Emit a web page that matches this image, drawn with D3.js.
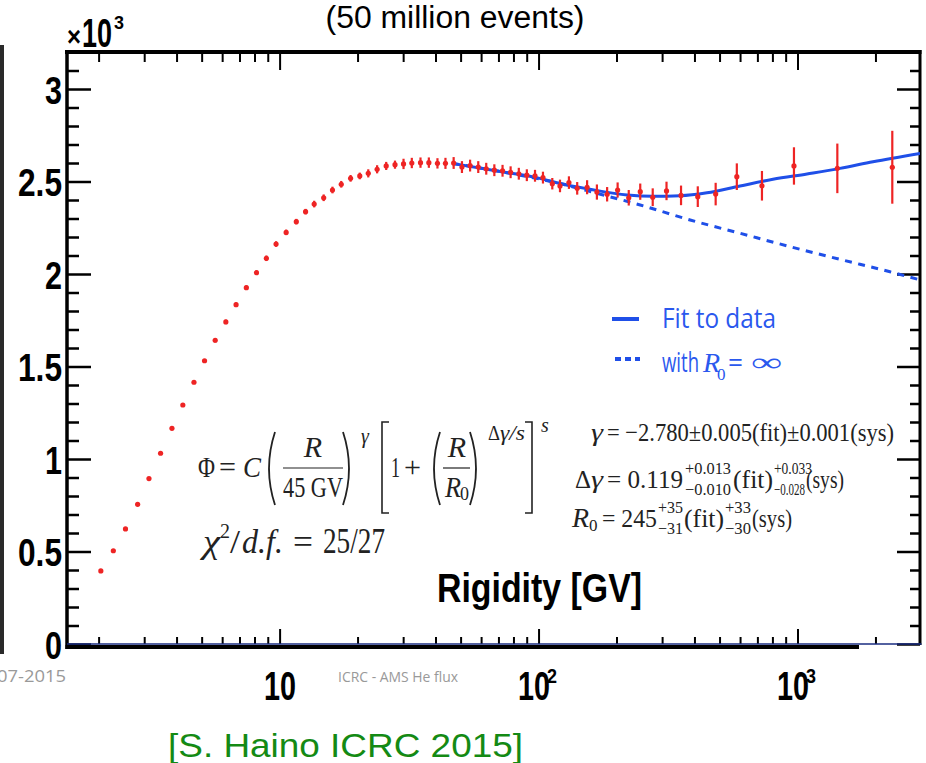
<!DOCTYPE html>
<html>
<head>
<meta charset="utf-8">
<script src="https://cdn.jsdelivr.net/npm/d3@7"></script>
<style>
  body { margin: 0; background: #fff; }
  svg { display: block; }
</style>
</head>
<body>
<div class="chart"></div>
<script>
"use strict";
(function(){

// AMS helium flux x R^2.7, in units of 10^3
var rigidity = [2.04, 2.28, 2.54, 2.83, 3.13, 3.47, 3.84, 4.23, 4.67, 5.13,
                5.64, 6.20, 6.79, 7.44, 8.14, 8.89, 9.69, 10.6, 11.6, 12.6,
                13.6, 14.8, 16.0, 17.3, 18.8, 20.4, 22.0, 23.8, 25.8, 27.9,
                30.1, 32.4, 35.0, 37.7, 40.7, 43.7, 47.0, 50.6, 54.4, 58.5,
                62.8, 67.5, 72.6, 78.0, 83.9, 90.1, 96.9, 104, 113, 121,
                131, 141, 154, 168, 184, 202, 223, 247, 276, 312,
                355, 412, 483, 583, 729, 969, 1425, 2323];
var flux = [0.395, 0.504, 0.622, 0.755, 0.894, 1.031, 1.166, 1.292, 1.415, 1.531,
            1.642, 1.741, 1.834, 1.926, 2.007, 2.085, 2.162, 2.225, 2.283, 2.337,
            2.378, 2.412, 2.454, 2.485, 2.517, 2.530, 2.544, 2.566, 2.584, 2.591,
            2.595, 2.600, 2.602, 2.602, 2.598, 2.598, 2.600, 2.578, 2.586, 2.578,
            2.569, 2.561, 2.558, 2.550, 2.542, 2.534, 2.531, 2.521, 2.488, 2.476,
            2.494, 2.463, 2.469, 2.443, 2.431, 2.454, 2.412, 2.445, 2.415, 2.449,
            2.425, 2.418, 2.432, 2.526, 2.477, 2.584, 2.571, 2.577];
var fluxErr = [0.008, 0.008, 0.008, 0.008, 0.008, 0.008, 0.008, 0.008, 0.008, 0.008,
               0.012, 0.012, 0.012, 0.012, 0.012, 0.015, 0.015, 0.015, 0.015, 0.015,
               0.018, 0.018, 0.018, 0.018, 0.018, 0.018, 0.022, 0.022, 0.022, 0.022,
               0.028, 0.028, 0.028, 0.028, 0.028, 0.030, 0.032, 0.032, 0.032, 0.032,
               0.032, 0.032, 0.032, 0.032, 0.032, 0.032, 0.032, 0.032, 0.031, 0.034,
               0.034, 0.034, 0.038, 0.041, 0.039, 0.041, 0.042, 0.044, 0.048, 0.050,
               0.053, 0.056, 0.061, 0.072, 0.080, 0.101, 0.134, 0.197];

// fit to data (solid) and the same without break, R0 = infinity (dashed)
var fitR    = [46.4, 71.0, 101, 121, 158, 220, 277, 352, 447, 600, 804, 1088, 1459, 1956, 2972];
var fitFlux = [2.598, 2.554, 2.517, 2.489, 2.458, 2.427, 2.420, 2.423, 2.439, 2.476, 2.512, 2.541, 2.571, 2.607, 2.652];
var noBreakR    = [46.4, 71.0, 121, 168, 247, 385, 600, 935, 1459, 2276, 2972];
var noBreakFlux = [2.598, 2.554, 2.489, 2.436, 2.373, 2.292, 2.220, 2.148, 2.079, 2.012, 1.968];

var yMajorTicks = [0, 0.5, 1, 1.5, 2, 2.5, 3];
var yTickLabels = ["0", "0.5", "1", "1.5", "2", "2.5", "3"];
var xMajorTicks = [10, 100, 1000];
var xTickBase = ["10", "10", "10"];
var xTickExp = ["", "2", "3"];
var xMinorTicks = [2, 3, 4, 5, 6, 7, 8, 9, 20, 30, 40, 50, 60, 70, 80, 90,
                   200, 300, 400, 500, 600, 700, 800, 900, 2000];


var width = 926;
var height = 763;
var left = 67, right = 920, top = 52, bottom = 644;

var helv = '"Liberation Sans", Arial, Helvetica, sans-serif';
var serif = '"Liberation Serif", "DejaVu Serif", serif';
var red = '#ee2424';
var blue = '#1f4fe8';

// condensed bold label width: digits 17px, dot 10px
function condW(s){
  return s.split('').reduce(function(a, c){ return a + (c === '.' ? 10 : 17); }, 0);
}

var svg = d3.select('.chart')
            .append('svg')
            .attr('width', width)
            .attr('height', height);

var x = d3.scaleLog().domain([1.51, 2972]).range([left, right]);
var y = d3.scaleLinear().domain([0, 3.2]).range([bottom, top]);

var yMinorTicks = d3.range(1, 33).map(function(i){ return i / 10; })
                    .filter(function(v){ return Math.round(v * 10) % 5 !== 0; });

// slide leftovers
svg.append('rect').attr('x', 0).attr('y', 45).attr('width', 4).attr('height', 609).attr('fill', '#2a2a2a');
svg.append('text').attr('x', 455).attr('y', 28).attr('text-anchor', 'middle')
   .attr('font-family', helv).attr('font-size', 31)
   .attr('textLength', 259).attr('lengthAdjust', 'spacingAndGlyphs')
   .text('(50 million events)');

// axes
function styleAxis(g, w){
  g.select('.domain').remove();
  g.selectAll('.tick line').attr('stroke', '#000').attr('stroke-width', w);
}

var gy = svg.append('g').attr('transform', 'translate(' + left + ',0)')
  .call(d3.axisLeft(y).tickValues(yMajorTicks).tickSize(-24).tickPadding(5)
          .tickFormat(function(d, i){ return yTickLabels[i]; }));
styleAxis(gy, 2.5);
gy.selectAll('.tick text')
  .attr('font-family', helv).attr('font-weight', 'bold').attr('font-size', 38)
  .attr('fill', '#000').attr('dy', '0.37em')
  .attr('textLength', function(d, i){ return condW(yTickLabels[i]); })
  .attr('lengthAdjust', 'spacingAndGlyphs');
styleAxis(svg.append('g').attr('transform', 'translate(' + left + ',0)')
  .call(d3.axisLeft(y).tickValues(yMinorTicks).tickSize(-12).tickFormat('')), 2.5);

styleAxis(svg.append('g').attr('transform', 'translate(' + right + ',0)')
  .call(d3.axisRight(y).tickValues(yMajorTicks).tickSize(-23).tickFormat('')), 2.5);
styleAxis(svg.append('g').attr('transform', 'translate(' + right + ',0)')
  .call(d3.axisRight(y).tickValues(yMinorTicks).tickSize(-10).tickFormat('')), 2.5);

styleAxis(svg.append('g').attr('transform', 'translate(0,' + top + ')')
  .call(d3.axisTop(x).tickValues(xMajorTicks).tickSize(-18).tickFormat('')), 2);
styleAxis(svg.append('g').attr('transform', 'translate(0,' + top + ')')
  .call(d3.axisTop(x).tickValues(xMinorTicks).tickSize(-10).tickFormat('')), 2);

var gx = svg.append('g').attr('transform', 'translate(0,' + bottom + ')')
  .call(d3.axisBottom(x).tickValues(xMajorTicks).tickSize(-15).tickFormat(function(d, i){ return xTickBase[i]; }));
styleAxis(gx, 2);
styleAxis(svg.append('g').attr('transform', 'translate(0,' + bottom + ')')
  .call(d3.axisBottom(x).tickValues(xMinorTicks).tickSize(-7).tickFormat('')), 2);
gx.selectAll('.tick text')
  .attr('y', 56).attr('dy', 0)
  .attr('font-family', helv).attr('font-weight', 'bold').attr('font-size', 40).attr('fill', '#000')
  .attr('textLength', 32).attr('lengthAdjust', 'spacingAndGlyphs')
  .attr('text-anchor', 'start')
  .attr('x', function(d, i){ return xTickExp[i] ? -21 : -16; })
  .each(function(d, i){
    if (!xTickExp[i]) return;
    d3.select(this.parentNode).append('text')
      .attr('x', 13).attr('y', 39)
      .attr('font-family', helv).attr('font-weight', 'bold').attr('font-size', 21).attr('fill', '#000')
      .attr('textLength', 10).attr('lengthAdjust', 'spacingAndGlyphs')
      .text(xTickExp[i]);
  });

// frame
svg.append('line').attr('x1', left).attr('x2', left).attr('y1', top - 2).attr('y2', bottom + 5)
   .attr('stroke', '#000').attr('stroke-width', 3.5);
svg.append('line').attr('x1', left - 2).attr('x2', right + 1.5).attr('y1', top).attr('y2', top)
   .attr('stroke', '#000').attr('stroke-width', 4);
svg.append('line').attr('x1', right).attr('x2', right).attr('y1', top - 2).attr('y2', bottom + 1)
   .attr('stroke', '#000').attr('stroke-width', 3);
svg.append('line').attr('x1', left).attr('x2', right + 1.5).attr('y1', bottom).attr('y2', bottom)
   .attr('stroke', '#1a2d80').attr('stroke-width', 1.5);
svg.append('line').attr('x1', left - 1.5).attr('x2', 859).attr('y1', bottom + 3).attr('y2', bottom + 3)
   .attr('stroke', '#000').attr('stroke-width', 4);

// x10^3
svg.append('text').attr('x', 67).attr('y', 46)
  .attr('font-family', helv).attr('font-weight', 'bold').attr('font-size', 28)
  .attr('textLength', 14).attr('lengthAdjust', 'spacingAndGlyphs').text('×');
svg.append('text').attr('x', 82).attr('y', 47)
  .attr('font-family', helv).attr('font-weight', 'bold').attr('font-size', 40)
  .attr('textLength', 30).attr('lengthAdjust', 'spacingAndGlyphs').text('10');
svg.append('text').attr('x', 114).attr('y', 29)
  .attr('font-family', helv).attr('font-weight', 'bold').attr('font-size', 19)
  .attr('textLength', 10).attr('lengthAdjust', 'spacingAndGlyphs').text('3');

// curves
svg.append('clipPath').attr('id', 'plot')
  .append('rect').attr('x', left).attr('y', top).attr('width', right - left).attr('height', bottom - top);

var line = d3.line()
  .x(function(d){ return x(d[0]); })
  .y(function(d){ return y(d[1]); })
  .curve(d3.curveMonotoneX);

svg.append('path')
   .datum(noBreakR.map(function(r, i){ return [r, noBreakFlux[i]]; }))
   .attr('clip-path', 'url(#plot)')
   .attr('d', line).attr('fill', 'none').attr('stroke', blue)
   .attr('stroke-width', 3).attr('stroke-dasharray', '7,6.5');
svg.append('path')
   .datum(fitR.map(function(r, i){ return [r, fitFlux[i]]; }))
   .attr('clip-path', 'url(#plot)')
   .attr('d', line).attr('fill', 'none').attr('stroke', blue).attr('stroke-width', 3);

// data points
var pts = rigidity.map(function(r, i){ return {r: r, v: flux[i], e: fluxErr[i]}; });
svg.selectAll('.err').data(pts).enter().append('line')
   .attr('class', 'err')
   .attr('x1', function(d){ return x(d.r); }).attr('x2', function(d){ return x(d.r); })
   .attr('y1', function(d){ return y(d.v + d.e); }).attr('y2', function(d){ return y(d.v - d.e); })
   .attr('stroke', red).attr('stroke-width', 2.2);
svg.selectAll('.pt').data(pts).enter().append('circle')
   .attr('class', 'pt')
   .attr('cx', function(d){ return x(d.r); }).attr('cy', function(d){ return y(d.v); })
   .attr('r', 2.6).attr('fill', red);

// legend
var legendFont = '"Open Sans", "Noto Sans", sans-serif';
var lblue = '#2a58ee';
var lg = svg.append('g');
lg.append('line').attr('x1', 612).attr('x2', 639).attr('y1', 319).attr('y2', 319)
  .attr('stroke', blue).attr('stroke-width', 4);
lg.append('line').attr('x1', 615).attr('x2', 640).attr('y1', 359).attr('y2', 359)
  .attr('stroke', blue).attr('stroke-width', 4).attr('stroke-dasharray', '6,4');
lg.append('text').attr('x', 662).attr('y', 328).attr('font-family', legendFont).attr('font-size', 27)
  .attr('fill', lblue).attr('textLength', 114).attr('lengthAdjust', 'spacingAndGlyphs').text('Fit to data');
lg.append('text').attr('x', 662).attr('y', 372).attr('font-family', legendFont).attr('font-size', 27)
  .attr('fill', lblue).attr('textLength', 37).attr('lengthAdjust', 'spacingAndGlyphs').text('with');
lg.append('text').attr('x', 703).attr('y', 372).attr('font-family', serif).attr('font-style', 'italic')
  .attr('font-size', 28).attr('fill', lblue).text('R');
lg.append('text').attr('x', 717).attr('y', 380).attr('font-family', serif)
  .attr('font-size', 17).attr('fill', lblue).text('0');
lg.append('text').attr('x', 728).attr('y', 372).attr('font-family', legendFont)
  .attr('font-size', 27).attr('fill', lblue).attr('textLength', 15).attr('lengthAdjust', 'spacingAndGlyphs').text('=');
lg.append('text').attr('x', 751).attr('y', 371).attr('font-family', serif)
  .attr('font-size', 26).attr('fill', lblue).attr('textLength', 31).attr('lengthAdjust', 'spacingAndGlyphs').text('∞');

// formulas
var ann = svg.append('g');
function tx(x0, y0, s, o){
  o = o || {};
  var t = ann.append('text').attr('x', x0).attr('y', y0).text(s)
    .attr('font-size', o.size || 24).attr('font-family', serif).attr('fill', '#222');
  if (o.italic) t.attr('font-style', 'italic');
  if (o.len) t.attr('textLength', o.len).attr('lengthAdjust', 'spacingAndGlyphs');
  if (o.anchor) t.attr('text-anchor', o.anchor);
  return t;
}
function paren(x0, y0, y1, open){
  var m = (y0 + y1) / 2;
  var d = open ? 'M' + (x0 + 8) + ',' + y0 + 'Q' + (x0 - 4) + ',' + m + ' ' + (x0 + 8) + ',' + y1
               : 'M' + x0 + ',' + y0 + 'Q' + (x0 + 12) + ',' + m + ' ' + x0 + ',' + y1;
  ann.append('path').attr('d', d).attr('fill', 'none').attr('stroke', '#222').attr('stroke-width', 1.8);
}
function bracket(x0, y0, y1, open){
  var d = open ? 'M' + (x0 + 7) + ',' + y0 + 'H' + x0 + 'V' + y1 + 'H' + (x0 + 7)
               : 'M' + x0 + ',' + y0 + 'H' + (x0 + 7) + 'V' + y1 + 'H' + x0;
  ann.append('path').attr('d', d).attr('fill', 'none').attr('stroke', '#222').attr('stroke-width', 1.6);
}
function hbar(x0, x1, y0){
  ann.append('line').attr('x1', x0).attr('x2', x1).attr('y1', y0).attr('y2', y0)
     .attr('stroke', '#222').attr('stroke-width', 1.2);
}

tx(198, 477, 'Φ', {size: 29, len: 17});
tx(219, 477, '=', {size: 29, len: 17});
tx(243, 477, 'C', {size: 30, italic: true, len: 18});
paren(267, 432, 505, true);
tx(313, 457, 'R', {size: 30, italic: true, anchor: 'middle'});
hbar(283, 343, 468);
tx(283, 497, '45 GV', {size: 29, len: 60});
paren(343, 432, 505, false);
tx(361, 443, 'γ', {size: 20, italic: true});
bracket(382, 422, 513, true);
tx(391, 477, '1', {size: 29, len: 9});
tx(404, 477, '+', {size: 29, len: 17});
paren(432, 432, 505, true);
tx(457, 457, 'R', {size: 30, italic: true, anchor: 'middle'});
hbar(443, 470, 468);
tx(445, 497, 'R', {size: 29, italic: true, len: 16});
tx(460, 500, '0', {size: 18});
paren(470, 432, 505, false);
tx(488, 440, 'Δ', {size: 20, len: 12});
tx(500, 440, 'γ/s', {size: 20, italic: true, len: 25});
bracket(525, 422, 513, false);
tx(541, 432, 's', {size: 20, italic: true});

tx(203, 553, 'χ', {size: 34, italic: true, len: 17});
tx(220, 538, '2', {size: 20});
tx(230, 553, '/', {size: 34, len: 10});
tx(242, 553, 'd.f.', {size: 34, italic: true, len: 41});
tx(293, 553, '=', {size: 34, len: 20});
tx(323, 553, '25/27', {size: 36, len: 62});

tx(591, 441, 'γ', {size: 26, italic: true, len: 12});
tx(607, 441, '= −2.780±0.005(fit)±0.001(sys)', {size: 26, len: 287});

tx(575, 488, 'Δ', {size: 26, len: 16});
tx(591, 488, 'γ', {size: 26, italic: true, len: 12});
tx(607, 488, '= 0.119', {size: 26, len: 76});
tx(685, 474, '+0.013', {size: 17, len: 46});
tx(685, 495, '−0.010', {size: 17, len: 46});
tx(733, 488, '(fit)', {size: 26, len: 40});
tx(774, 474, '+0.033', {size: 17, len: 38});
tx(774, 495, '−0.028', {size: 17, len: 31});
tx(806, 488, '(sys)', {size: 26, len: 38});

tx(572, 527, 'R', {size: 27, italic: true, len: 17});
tx(589, 531, '0', {size: 17});
tx(602, 527, '= 245', {size: 26, len: 55});
tx(658, 513, '+35', {size: 17, len: 25});
tx(658, 534, '−31', {size: 17, len: 25});
tx(684, 527, '(fit)', {size: 26, len: 40});
tx(725, 513, '+33', {size: 17, len: 26});
tx(725, 534, '−30', {size: 17, len: 26});
tx(752, 527, '(sys)', {size: 26, len: 40});

// axis title and footer
svg.append('text').attr('x', 437).attr('y', 602)
   .attr('font-family', helv).attr('font-weight', 'bold').attr('font-size', 40)
   .attr('textLength', 205).attr('lengthAdjust', 'spacingAndGlyphs').text('Rigidity [GV]');
svg.append('text').attr('x', -3).attr('y', 682)
   .attr('font-family', legendFont).attr('font-size', 17).attr('fill', '#999')
   .attr('textLength', 69).attr('lengthAdjust', 'spacingAndGlyphs').text('07-2015');
svg.append('text').attr('x', 338).attr('y', 682)
   .attr('font-family', legendFont).attr('font-size', 15).attr('fill', '#999')
   .attr('textLength', 120).attr('lengthAdjust', 'spacingAndGlyphs').text('ICRC - AMS He flux');
svg.append('text').attr('x', 168).attr('y', 757)
   .attr('font-family', helv).attr('font-size', 34).attr('fill', '#148a14')
   .attr('textLength', 355).attr('lengthAdjust', 'spacingAndGlyphs').text('[S. Haino ICRC 2015]');

})();
</script>
</body>
</html>
